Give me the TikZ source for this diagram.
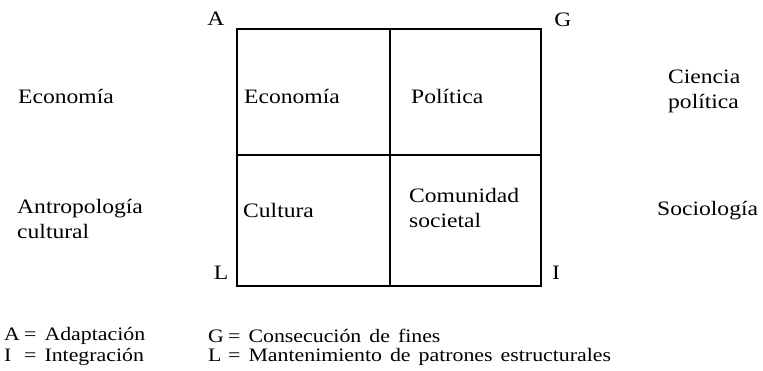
\documentclass[tikz,border=0pt]{standalone}
\usepackage{fontspec}
\setmainfont{Liberation Serif}[FakeStretch=1.15]
\newcommand{\keyletter}[1]{\makebox[20pt][l]{#1}=\hspace{8pt}}
\newcommand{\wsp}{\hspace{8pt}}
\begin{document}
\begin{tikzpicture}[x=1pt,y=-1pt,
  lbl/.style={inner sep=0pt,anchor=west,align=left,font=\fontsize{20.5}{25}\selectfont},
  keytext/.style={inner sep=0pt,anchor=west,align=left,font=\fontsize{19}{21}\selectfont},
  corner/.style={inner sep=0pt,font=\fontsize{20.5}{25}\selectfont},
  grid/.style={line width=1.3pt}]
\useasboundingbox (0,0) rectangle (763,371);
% box corners
\coordinate (nw) at (237,29);
\coordinate (se) at (541,286);
\coordinate (nm) at (390,29);
\coordinate (sm) at (390,286);
\coordinate (wm) at (237,155);
\coordinate (em) at (541,155);
\draw[grid] (nw) rectangle (se);
\draw[grid] (nm) -- (sm);
\draw[grid] (wm) -- (em);
% corner letters
\node[corner] (A) at (216,19) {A};
\node[corner] (G) at (563,20) {G};
\node[corner] (L) at (221,273) {L};
\node[corner] (I) at (556,273) {I};
% cells
\node[lbl] (c1) at (244,96) {Economía};
\node[lbl] (c2) at (411,96) {Política};
\node[lbl] (c3) at (243,210) {Cultura};
\node[lbl] (c4) at (409,208) {Comunidad\\societal};
% sides
\node[lbl] (l1) at (18,96) {Economía};
\node[lbl] (l2) at (17,219) {Antropología\\cultural};
\node[lbl] (r1) at (668,91) {Ciencia\\política};
\node[lbl] (r2) at (657,211) {Sociología};
% legend
\node[keytext] (k1) at (4,336) {\keyletter{A}Adaptación};
\node[keytext] (k2) at (4,357) {\keyletter{I}Integración};
\node[keytext] (k3) at (208,336) {\keyletter{G}Consecución\wsp de\wsp fines};
\node[keytext] (k4) at (208,357) {\keyletter{L}Mantenimiento\wsp de\wsp patrones\wsp estructurales};
\end{tikzpicture}
\end{document}
